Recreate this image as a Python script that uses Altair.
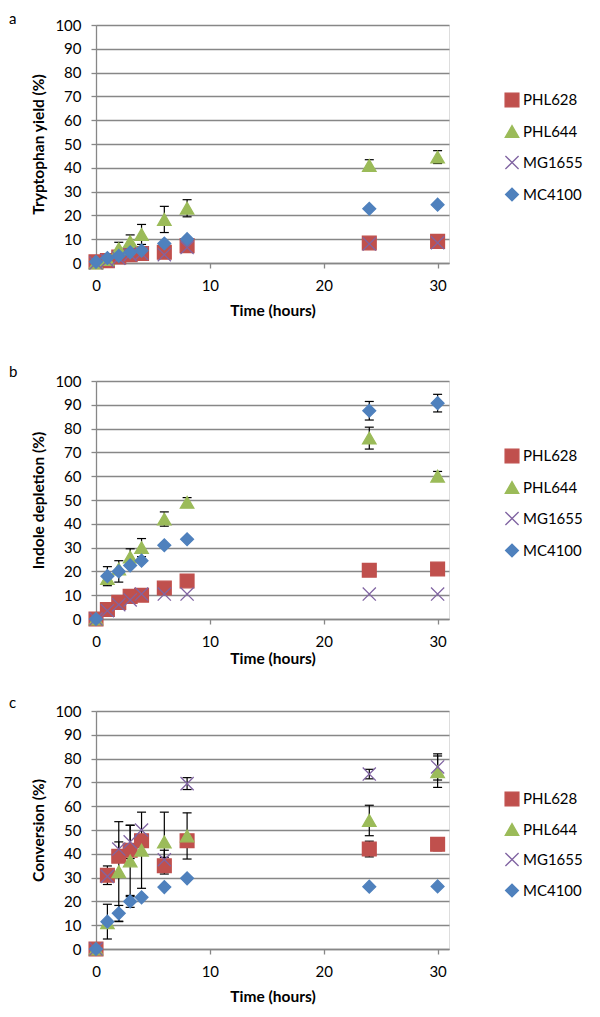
import altair as alt
import pandas as pd

# ---------------- data ----------------
times = [0, 1, 2, 3, 4, 6, 8, 24, 30]
strains = ["PHL628", "PHL644", "MG1655", "MC4100"]

# Panel a: Tryptophan yield (%)
a_phl628 = [0.5, 1, 2.5, 3.5, 4, 4.5, 7.3, 8.4, 9.1]
a_phl644 = [0, 1.5, 6, 9, 12, 18.3, 23, 41, 44.5]
a_mg1655 = [0, 1, 2, 3.5, 4, 3.5, 6.5, 8, 8.5]
a_mc4100 = [0.5, 2.1, 3, 4.5, 5.2, 8.2, 10, 22.8, 24.5]
a_phl628_err = [0, 0, 0, 0, 0, 0, 0, 0, 0]
a_phl644_err = [0, 0.5, 2.7, 2.8, 4.2, 5.5, 3.6, 2.4, 2.7]
a_mg1655_err = [0, 0, 0, 0, 0, 0, 0, 0, 0]
a_mc4100_err = [0, 0, 0, 0, 0, 0, 0, 0, 0]

# Panel b: Indole depletion (%)
b_phl628 = [0, 4, 7, 9.5, 10, 13, 16, 20.5, 21]
b_phl644 = [0, 17, 21, 26, 30, 42, 49, 76, 60]
b_mg1655 = [0, 3.5, 6, 8, 10.5, 10.5, 10.5, 10.5, 10.5]
b_mc4100 = [0, 18, 20, 22.5, 24.5, 31, 33.5, 87.5, 90.7]
b_phl628_err = [0, 0, 0, 2.8, 0, 0, 0, 0, 0]
b_phl644_err = [0, 0, 0, 3.5, 3.8, 3, 2, 4.6, 2]
b_mg1655_err = [0, 0, 0, 0, 0, 0, 0, 0, 0]
b_mc4100_err = [0, 4, 4.5, 0, 0, 0, 0, 3.9, 3.7]

# Panel c: Conversion (%)
c_phl628 = [0, 31, 39, 41.5, 45.5, 35, 45.5, 42, 44]
c_phl644 = [0, 11, 32.5, 37, 41.5, 45, 47.5, 54, 74.5]
c_mg1655 = [0, 30.5, 42, 45, 50, 37.5, 69.5, 73.5, 76.5]
c_mc4100 = [0, 11.5, 15, 20, 21.7, 26, 29.7, 26.2, 26.3]
c_phl628_err = [0, 3.9, 0, 0, 0, 3.5, 0, 3.3, 2.7]
c_phl644_err = [0, 0, 21, 15, 16, 12.5, 9.7, 6.4, 6.6]
c_mg1655_err = [0, 0, 3, 7, 0, 4, 2.5, 2, 5.5]
c_mc4100_err = [0, 7.3, 3.3, 2.5, 0, 0, 0, 0, 0]

x_ticks = [0, 10, 20, 30]
y_ticks = [0, 10, 20, 30, 40, 50, 60, 70, 80, 90, 100]

# ---------------- styling ----------------
colors = ["#C0504D", "#9BBB59", "#8064A2", "#4F81BD"]
shapes = ["square", "triangle-up", "M-1,-1L1,1M-1,1L1,-1", "diamond"]
sizes = [190, 165, 140, 150]
FONT = "Lato"
GRID = "#878787"


def make_df(vals, errs):
    rows = []
    for s, v, e in zip(strains, vals, errs):
        for t, vi, ei in zip(times, v, e):
            rows.append({"Time": t, "Value": vi, "Err": ei, "Strain": s})
    return pd.DataFrame(rows)


def panel(df, ytitle, label, label_y, ext, legend_y, row_pad, title_pad):
    xaxis = alt.Axis(
        values=x_ticks, title="Time (hours)", grid=False, domain=True,
        domainColor=GRID, domainWidth=1.3, tickColor=GRID, tickSize=5,
        tickWidth=1.3, labelPadding=10, labelFontSize=15, labelFont=FONT,
        labelColor="black", labelFlush=False, labelOverlap=False,
        titleFont=FONT, titleFontSize=15.5, titleFontWeight="bold",
        titleColor="black", titlePadding=title_pad,
    )
    yaxis = alt.Axis(
        values=y_ticks, title=ytitle, grid=True, gridColor=GRID,
        gridWidth=1.3, domain=True, domainColor=GRID, domainWidth=1.3,
        tickColor=GRID, tickSize=5, tickWidth=1.3, labelPadding=10,
        labelFontSize=15, labelFont=FONT, labelColor="black",
        labelFlush=False, labelOverlap=False, titleFont=FONT,
        titleFontSize=15.5, titleFontWeight="bold", titleColor="black",
        titlePadding=8,
    )
    xscale = alt.Scale(domain=[0, 31], nice=False, zero=False)
    yscale = alt.Scale(domain=[0, 100], nice=False)

    def X(f):
        return alt.X(f, scale=xscale, axis=xaxis, title="Time (hours)")

    def Y(f):
        return alt.Y(f, scale=yscale, axis=yaxis, title=ytitle)

    base = alt.Chart(df)
    err = base.transform_filter("datum.Err > 0").transform_calculate(
        lo="datum.Value - datum.Err", hi="datum.Value + datum.Err"
    )
    rules = err.mark_rule(color="black", strokeWidth=1.2).encode(
        x=X("Time:Q"), y=Y("lo:Q"), y2="hi:Q"
    )
    cap_hi = err.mark_tick(orient="horizontal", color="black", size=9,
                           thickness=1.2, opacity=1).encode(x=X("Time:Q"), y=Y("hi:Q"))
    cap_lo = err.mark_tick(orient="horizontal", color="black", size=9,
                           thickness=1.2, opacity=1).encode(x=X("Time:Q"), y=Y("lo:Q"))

    leg = alt.Legend(
        title=None, orient="none", legendX=408, legendY=legend_y,
        labelFont=FONT, labelFontSize=15, labelColor="black", labelOffset=3,
        symbolSize=140, symbolStrokeWidth=1.3, rowPadding=row_pad, padding=0,
    )
    pts = base.mark_point(filled=True, opacity=1, strokeWidth=1.3).encode(
        x=X("Time:Q"),
        y=Y("Value:Q"),
        color=alt.Color("Strain:N", scale=alt.Scale(domain=strains, range=colors), legend=leg),
        stroke=alt.Stroke("Strain:N", scale=alt.Scale(domain=strains, range=colors), legend=leg),
        shape=alt.Shape("Strain:N", scale=alt.Scale(domain=strains, range=shapes), legend=leg),
        size=alt.Size("Strain:N", scale=alt.Scale(domain=strains, range=sizes), legend=None),
        order=alt.Order("idx:Q"),
    ).transform_calculate(idx="indexof(['PHL628','PHL644','MG1655','MC4100'], datum.Strain)")

    one = alt.Chart(pd.DataFrame({"k": [0]}))
    lab = one.mark_text(align="left", baseline="alphabetic", fontSize=15,
                        font=FONT, color="black").encode(
        x=alt.value(-87), y=alt.value(label_y), text=alt.value(label)
    )
    extender = one.mark_text(align="left", baseline="top", fontSize=8,
                             opacity=0, text=".").encode(
        x=alt.value(0), y=alt.value(-ext)
    )
    return alt.layer(rules, cap_hi, cap_lo, pts, lab, extender).properties(
        width=353, height=238
    )


df_a = make_df([a_phl628, a_phl644, a_mg1655, a_mc4100],
               [a_phl628_err, a_phl644_err, a_mg1655_err, a_mc4100_err])
df_b = make_df([b_phl628, b_phl644, b_mg1655, b_mc4100],
               [b_phl628_err, b_phl644_err, b_mg1655_err, b_mc4100_err])
df_c = make_df([c_phl628, c_phl644, c_mg1655, c_mc4100],
               [c_phl628_err, c_phl644_err, c_mg1655_err, c_mc4100_err])

pa = panel(df_a, "Tryptophan yield (%)", "a", -1, 15, 67, 13, 10)
pb = panel(df_b, "Indole depletion (%)", "b", -4, 61, 67, 13, 2)
pc = panel(df_c, "Conversion (%)", "c", -3, 43, 80, 12, 10)

chart = (
    alt.vconcat(pa, pb, pc, spacing=0)
    .resolve_scale(color="independent", shape="independent",
                   stroke="independent", size="independent")
    .resolve_legend(color="independent", shape="independent",
                    stroke="independent", size="independent")
    .properties(padding={"left": 0, "top": 1, "right": 0, "bottom": 0})
    .configure_view(stroke=None)
    .configure(background="white")
)

chart.save("out.html", embed_options={"renderer": "svg", "actions": False})
